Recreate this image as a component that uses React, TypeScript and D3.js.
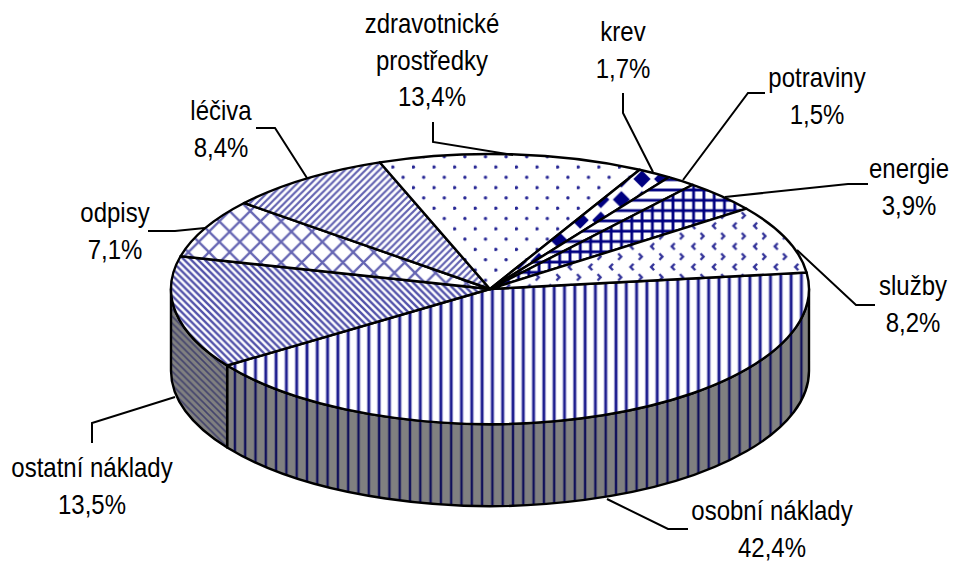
import React from "react";
import * as d3 from "d3";

const categories = ["osobní náklady", "ostatní náklady", "odpisy", "léčiva", "zdravotnické prostředky", "krev", "potraviny", "energie", "služby"];
const values = [42.4, 13.5, 7.1, 8.4, 13.4, 1.7, 1.5, 3.9, 8.2];
const valueLabels = ["42,4%", "13,5%", "7,1%", "8,4%", "13,4%", "1,7%", "1,5%", "3,9%", "8,2%"];
const patternIds = ["vert", "downDiag", "lattice", "upDiag", "dots", "diamonds", "horiz", "grid", "chevrons"];
const wallPatternIds = ["vertWall", "downDiagWall"];

// label layout: [centre x, first baseline], wrapped lines, leader polyline
const labelCentres: [number, number][] = [[772, 520], [92, 477], [115, 222], [221, 120], [432, 33], [623, 41], [817, 87], [909, 178], [913, 295]];
const labelLines = [["osobní náklady"], ["ostatní náklady"], ["odpisy"], ["léčiva"], ["zdravotnické", "prostředky"], ["krev"], ["potraviny"], ["energie"], ["služby"]];
const leaders: [number, number][][] = [
  [[607, 499], [668, 529], [688, 529]],
  [[175, 397], [92, 423], [92, 443]],
  [[205, 228], [175, 231], [148, 231]],
  [[307, 178], [275, 128], [256, 128]],
  [[513, 155], [433, 142], [433, 122]],
  [[653, 172], [623, 113], [623, 93]],
  [[683, 180], [748, 93], [765, 93]],
  [[725, 197], [848, 184], [868, 184]],
  [[797, 250], [856, 305], [875, 305]],
];

const W = 953, H = 562;
const cx = 490, cy = 289, rx = 319, ry = 135, depth = 82;
const P = 10.3;
const D = P * 2 / 3;
const NAVY = "#000080";
const startDeg = 83;
const rad = (d: number) => (d * Math.PI) / 180;
const pt = (a: number, dy = 0): [number, number] => [cx + rx * Math.sin(a), cy - ry * Math.cos(a) + dy];

const pie = d3.pie<number>().sort(null).startAngle(rad(startDeg)).endAngle(rad(startDeg) + 2 * Math.PI);
const arcs = pie(values);

function slicePath(a0: number, a1: number) {
  const [x0, y0] = pt(a0);
  const [x1, y1] = pt(a1);
  return `M${cx},${cy}L${x0},${y0}A${rx},${ry} 0 ${a1 - a0 > Math.PI ? 1 : 0} 1 ${x1},${y1}Z`;
}
function wallPath(a0: number, a1: number) {
  const [x0, y0] = pt(a0);
  const [x1, y1] = pt(a1);
  return `M${x0},${y0}A${rx},${ry} 0 0 1 ${x1},${y1}L${x1},${y1 + depth}A${rx},${ry} 0 0 0 ${x0},${y0 + depth}Z`;
}

const wallStart = rad(90), wallEnd = rad(270);
const walls = arcs
  .map((a, i) => {
    const s = Math.max(a.startAngle, wallStart);
    const e = Math.min(a.endAngle, wallEnd);
    return e > s ? { i, s, e } : null;
  })
  .filter(Boolean) as { i: number; s: number; e: number }[];

function Patterns() {
  const stripeUp = `M-2,2L2,-2M0,${D}L${D},0M${D - 2},${D + 2}L${D + 2},${D - 2}`;
  const stripeDown = `M-2,${D - 2}L2,${D + 2}M0,0L${D},${D}M${D - 2},-2L${D + 2},2`;
  const C = P * 2;
  const latticeD = `M-2,2L2,-2M0,${C}L${C},0M${C - 2},${C + 2}L${C + 2},${C - 2}M-2,${C - 2}L2,${C + 2}M0,0L${C},${C}M${C - 2},-2L${C + 2},2`;
  const chev = { stroke: NAVY, strokeOpacity: 0.8, strokeWidth: 2.4, fill: "none" };
  return (
    <defs>
      <pattern id="vert" patternUnits="userSpaceOnUse" width={P} height={P} patternTransform="translate(8.3,0)">
        <rect x={0} width={2.2} height={P} fill={NAVY} opacity={0.2} />
        <rect x={P - 2.2} width={2.2} height={P} fill={NAVY} opacity={0.2} />
        <rect x={0} width={1.3} height={P} fill={NAVY} opacity={0.85} />
        <rect x={P - 1.3} width={1.3} height={P} fill={NAVY} opacity={0.85} />
      </pattern>
      <pattern id="vertWall" patternUnits="userSpaceOnUse" width={P} height={P} patternTransform="translate(8.3,0)">
        <rect x={0} width={1.2} height={P} fill="#10105a" />
        <rect x={P - 1.2} width={1.2} height={P} fill="#10105a" />
      </pattern>
      <pattern id="horiz" patternUnits="userSpaceOnUse" width={P} height={P} patternTransform="translate(0,4.6)">
        <rect y={0} width={P} height={1.4} fill={NAVY} />
        <rect y={P - 1.4} width={P} height={1.4} fill={NAVY} />
      </pattern>
      <pattern id="grid" patternUnits="userSpaceOnUse" width={P} height={P} patternTransform="translate(3.5,4.6)">
        <path d={`M0,0V${P}M${P},0V${P}M0,0H${P}M0,${P}H${P}`} stroke={NAVY} strokeWidth={2.8} fill="none" />
      </pattern>
      <pattern id="upDiag" patternUnits="userSpaceOnUse" width={D} height={D}>
        <path d={stripeUp} stroke={NAVY} strokeOpacity={0.62} strokeWidth={2.2} fill="none" />
      </pattern>
      <pattern id="downDiag" patternUnits="userSpaceOnUse" width={D} height={D}>
        <path d={stripeDown} stroke={NAVY} strokeOpacity={0.68} strokeWidth={2.4} fill="none" />
      </pattern>
      <pattern id="downDiagWall" patternUnits="userSpaceOnUse" width={D} height={D}>
        <path d={stripeDown} stroke="#10105a" strokeOpacity={0.55} strokeWidth={1.6} fill="none" />
      </pattern>
      <pattern id="lattice" patternUnits="userSpaceOnUse" width={C} height={C} patternTransform="translate(3,5)">
        <path d={latticeD} stroke={NAVY} strokeOpacity={0.6} strokeWidth={2.3} fill="none" />
      </pattern>
      <pattern id="dots" patternUnits="userSpaceOnUse" width={C} height={C}>
        <circle cx={1.4} cy={2.2} r={1.7} fill={NAVY} opacity={0.85} />
        <circle cx={11.7} cy={12.5} r={1.7} fill={NAVY} opacity={0.85} />
      </pattern>
      <pattern id="diamonds" patternUnits="userSpaceOnUse" width={C} height={C} patternTransform="translate(3.4,14.2)">
        <path d="M0,-8.6L8.6,0L0,8.6L-8.6,0Z" fill={NAVY} />
        <path d={`M${C},-8.6L${C + 8.6},0L${C},8.6L${C - 8.6},0Z`} fill={NAVY} />
        <path d={`M0,${C - 8.6}L8.6,${C}L0,${C + 8.6}L-8.6,${C}Z`} fill={NAVY} />
        <path d={`M${C},${C - 8.6}L${C + 8.6},${C}L${C},${C + 8.6}L${C - 8.6},${C}Z`} fill={NAVY} />
      </pattern>
      <pattern id="chevrons" patternUnits="userSpaceOnUse" width={C} height={C} patternTransform="translate(12.5,19.8)">
        <path d="M3,-3.2L0,0L3,3.2" {...chev} />
        <path d={`M${C + 3},-3.2L${C},0L${C + 3},3.2`} {...chev} />
        <path d={`M3,${C - 3.2}L0,${C}L3,${C + 3.2}`} {...chev} />
        <path d={`M${C + 3},${C - 3.2}L${C},${C}L${C + 3},${C + 3.2}`} {...chev} />
        <path d="M8.3,7.1L11.3,10.3L8.3,13.5" {...chev} />
      </pattern>
    </defs>
  );
}

export default function App() {
  const line = d3.line();
  return (
    <svg width={W} height={H} viewBox={`0 0 ${W} ${H}`} style={{ position: "absolute", left: 0, top: 0, background: "#fff" }}>
      <Patterns />
      {walls.map(({ i, s, e }, k) => (
        <g key={categories[i]}>
          <path d={wallPath(s, e)} fill="#808080" />
          <path d={wallPath(s, e)} fill={`url(#${wallPatternIds[k]})`} stroke="#000" strokeWidth={2.4} strokeLinejoin="round" />
        </g>
      ))}
      {arcs.map((a, i) => (
        <g key={categories[i]}>
          <path d={slicePath(a.startAngle, a.endAngle)} fill="#fff" />
          <path d={slicePath(a.startAngle, a.endAngle)} fill={`url(#${patternIds[i]})`} stroke="#000" strokeWidth={2.4} strokeLinejoin="round" />
        </g>
      ))}
      {leaders.map((l, i) => (
        <path key={i} d={line(l) as string} fill="none" stroke="#000" strokeWidth={2} />
      ))}
      {categories.map((c, i) => {
        const rows = [...labelLines[i], valueLabels[i]];
        const [x, y0] = labelCentres[i];
        return (
          <g key={c}>
            {rows.map((r, j) => (
              <text
                key={j}
                transform={`translate(${x},${y0 + j * 36.5}) scale(1,1.17)`}
                textAnchor="middle"
                fontFamily="'Liberation Sans', Arial, sans-serif"
                fontSize={24}
                fill="#000"
              >
                {r}
              </text>
            ))}
          </g>
        );
      })}
    </svg>
  );
}
